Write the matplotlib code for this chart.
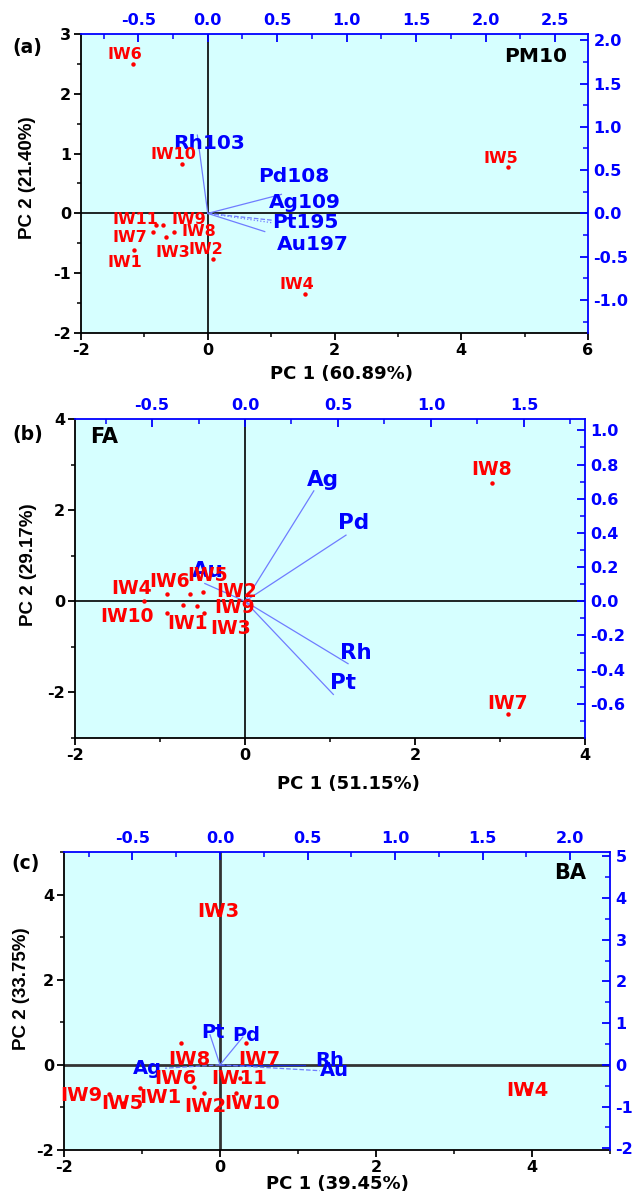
import matplotlib
matplotlib.use('Agg')
import matplotlib.pyplot as plt
from matplotlib.ticker import MultipleLocator, FormatStrFormatter

plt.rcParams['font.family'] = ['DejaVu Sans']
plt.rcParams['font.weight'] = 'bold'
plt.rcParams['axes.unicode_minus'] = False

# ---------------- data ----------------
# Panel (a) PM10
pm_samples = ['IW1', 'IW2', 'IW3', 'IW4', 'IW5', 'IW6', 'IW7', 'IW8', 'IW9', 'IW10', 'IW11']
pm_pc1 = [-1.16, 0.09, -0.66, 1.54, 4.74, -1.18, -0.86, -0.54, -0.71, -0.41, -0.81]
pm_pc2 = [-0.62, -0.76, -0.40, -1.34, 0.77, 2.50, -0.31, -0.31, -0.19, 0.82, -0.19]
pm_vars = ['Rh103', 'Pd108', 'Ag109', 'Pt195', 'Au197']
pm_load1 = [-0.075, 0.53, 0.47, 0.47, 0.41]
pm_load2 = [0.905, 0.22, -0.08, -0.11, -0.21]

# Panel (b) FA
fa_samples = ['IW1', 'IW2', 'IW3', 'IW4', 'IW5', 'IW6', 'IW7', 'IW8', 'IW9', 'IW10']
fa_pc1 = [-0.73, -0.50, -0.48, -1.19, -0.65, -0.92, 3.09, 2.90, -0.56, -0.92]
fa_pc2 = [-0.09, 0.20, -0.25, 0.00, 0.15, 0.17, -2.48, 2.60, -0.11, -0.25]
fa_vars = ['Ag', 'Pd', 'Rh', 'Pt', 'Au']
fa_load1 = [0.37, 0.543, 0.554, 0.475, -0.216]
fa_load2 = [0.646, 0.387, -0.365, -0.545, 0.104]

# Panel (c) BA
ba_samples = ['IW1', 'IW2', 'IW3', 'IW4', 'IW5', 'IW6', 'IW7', 'IW8', 'IW9', 'IW10', 'IW11']
ba_pc1 = [-1.02, -0.20, -0.02, 3.94, -1.25, -0.33, 0.33, -0.50, -1.42, 0.21, 0.25]
ba_pc2 = [-0.55, -0.65, 3.61, -0.60, -0.90, -0.52, 0.51, 0.51, -0.68, -0.66, -0.31]
ba_vars = ['Pt', 'Pd', 'Ag', 'Rh', 'Au']
ba_load1 = [-0.057, 0.13, -0.314, 0.485, 0.57]
ba_load2 = [0.72, 0.665, -0.08, 0.0, -0.14]

# ---------------- styles / layout ----------------
W, H = 636, 1196
RED = '#ff0000'
BLUE = '#0000ff'
LBLUE = '#6f7cff'
BG = '#d6ffff'

pm_soff = [(-9, -12), (-8, 9), (7, -15), (-8, 9), (-7, 9), (-8, 9), (-23, -6), (25, 0), (26, 5), (-8, 10), (-21, 5)]
pm_voff = [(12, -8), (12, 18), (32, 18), (32, 0), (48, -13)]
pm_vls = ['-', '-', '--', ':', '-']
pm_vcol = [LBLUE] * 5

fa_soff = [(5, -18), (34, 1), (26, -16), (-12, 13), (18, 19), (3, 12), (0, 11), (0, 13), (37, -1), (-40, -4)]
fa_voff = [(9, 11), (8, 12), (8, 11), (10, 11), (3, 13)]
fa_vls = ['-'] * 5
fa_vcol = [LBLUE] * 5

ba_soff = [(20, -9), (1, -14), (0, 0), (0, 0), (0, 0), (-19, 8), (14, -16), (8, -16), (-28, -2), (16, -11), (0, 0)]
ba_voff = [(3, 2), (3, 2), (-18, 0), (25, 4), (15, 0)]
ba_vls = ['-', '-', '--', '-', '--']
ba_vcol = [LBLUE, LBLUE, LBLUE, '#1a2bd6', LBLUE]

fig = plt.figure(figsize=(W / 100, H / 100), dpi=100)


def rect_px(x0, y0, x1, y1):
    return [x0 / W, 1 - y1 / H, (x1 - x0) / W, (y1 - y0) / H]


def panel(box, samples, pc1, pc2, soff, sfs, vars_, l1, l2, voff, vls, vcol, vfs,
          xlim, ylim, sx, sy, xmaj, ymaj, txmaj, tymaj, tyfmt, zlw, zcol):
    rect = rect_px(*box)
    ax = fig.add_axes(rect)
    ax.set_facecolor(BG)
    ax.set_xlim(*xlim)
    ax.set_ylim(*ylim)
    ax.xaxis.set_major_locator(MultipleLocator(xmaj))
    ax.xaxis.set_minor_locator(MultipleLocator(xmaj / 2))
    ax.yaxis.set_major_locator(MultipleLocator(ymaj))
    ax.yaxis.set_minor_locator(MultipleLocator(ymaj / 2))
    ax.xaxis.set_major_formatter(FormatStrFormatter('%d'))
    ax.yaxis.set_major_formatter(FormatStrFormatter('%d'))
    ax.tick_params(which='major', direction='out', length=5, width=1.3, labelsize=11.5, pad=2)
    ax.tick_params(which='minor', direction='out', length=3, width=1.1)
    for s in ['top', 'right']:
        ax.spines[s].set_visible(False)
    for s in ['left', 'bottom']:
        ax.spines[s].set_linewidth(1.3)
    ax.axhline(0, color=zcol, lw=zlw, zorder=1)
    ax.axvline(0, color=zcol, lw=zlw, zorder=1)

    ax2 = fig.add_axes(rect, label='loadings' + str(box))
    ax2.set_facecolor('none')
    ax2.set_xlim(xlim[0] * sx, xlim[1] * sx)
    ax2.set_ylim(ylim[0] * sy, ylim[1] * sy)
    ax2.xaxis.set_ticks_position('top')
    ax2.yaxis.set_ticks_position('right')
    ax2.xaxis.set_major_locator(MultipleLocator(txmaj))
    ax2.xaxis.set_minor_locator(MultipleLocator(txmaj / 2))
    ax2.yaxis.set_major_locator(MultipleLocator(tymaj))
    ax2.yaxis.set_minor_locator(MultipleLocator(tymaj / 2))
    ax2.xaxis.set_major_formatter(FormatStrFormatter('%.1f'))
    ax2.yaxis.set_major_formatter(FormatStrFormatter(tyfmt))
    ax2.tick_params(which='major', direction='in', length=6, width=1.3, colors=BLUE,
                    labelsize=11.5, pad=4)
    ax2.tick_params(which='minor', direction='in', length=3.5, width=1.1, colors=BLUE)
    for s in ['left', 'bottom']:
        ax2.spines[s].set_visible(False)
    for s in ['top', 'right']:
        ax2.spines[s].set_color(BLUE)
        ax2.spines[s].set_linewidth(1.3)

    for i in range(len(vars_)):
        ax2.plot([0, l1[i]], [0, l2[i]], color=vcol[i], ls=vls[i], lw=0.9, zorder=2)
        ax2.annotate(vars_[i], (l1[i], l2[i]), xytext=voff[i], textcoords='offset pixels',
                     ha='center', va='center', color=BLUE, fontsize=vfs, fontweight='bold',
                     zorder=4)

    ax2.plot([x * sx for x in pc1], [y * sy for y in pc2], 'o', color=RED, ms=3.2, mew=0, zorder=3)
    for i in range(len(samples)):
        ax2.annotate(samples[i], (pc1[i] * sx, pc2[i] * sy), xytext=soff[i],
                     textcoords='offset pixels', ha='center', va='center', color=RED,
                     fontsize=sfs, fontweight='bold', zorder=5)
    return ax, ax2


# (a)
panel((81, 34, 588, 333), pm_samples, pm_pc1, pm_pc2, pm_soff, 11.5,
      pm_vars, pm_load1, pm_load2, pm_voff, pm_vls, pm_vcol, 14.5,
      (-2, 6), (-2, 3), 0.456, 0.691, 2, 1, 0.5, 0.5, '%.1f', 1.2, 'black')
# (b)
panel((75, 419, 585, 738), fa_samples, fa_pc1, fa_pc2, fa_soff, 13.5,
      fa_vars, fa_load1, fa_load2, fa_voff, fa_vls, fa_vcol, 15.5,
      (-2, 4), (-3, 4), 0.457, 0.2666, 2, 2, 0.5, 0.2, '%.1f', 1.2, 'black')
# (c)
panel((64, 852, 610, 1150), ba_samples, ba_pc1, ba_pc2, ba_soff, 14,
      ba_vars, ba_load1, ba_load2, ba_voff, ba_vls, ba_vcol, 14,
      (-2, 5), (-2, 5), 0.4456, 1.02, 2, 2, 0.5, 1, '%d', 2.0, '#333333')

# texts
def ftext(x, y, s, **kw):
    fig.text(x / W, 1 - y / H, s, ha='center', va='center', fontweight='bold', **kw)

ftext(27, 47, '(a)', fontsize=13.5)
ftext(28, 435, '(b)', fontsize=13.5)
ftext(26, 863, '(c)', fontsize=13.5)
ftext(536, 57, 'PM10', fontsize=14.5)
ftext(104, 437, 'FA', fontsize=15)
ftext(570, 873, 'BA', fontsize=15)
ftext(342, 374, 'PC 1 (60.89%)', fontsize=13)
ftext(348, 784, 'PC 1 (51.15%)', fontsize=13)
ftext(337, 1184, 'PC 1 (39.45%)', fontsize=13)
ftext(28, 178, 'PC 2 (21.40%)', fontsize=13.5, rotation=90, family='Liberation Sans')
ftext(29, 565, 'PC 2 (29.17%)', fontsize=13.5, rotation=90, family='Liberation Sans')
ftext(22, 989, 'PC 2 (33.75%)', fontsize=13.5, rotation=90, family='Liberation Sans')

fig.savefig('out.png', dpi=100, facecolor='white')
